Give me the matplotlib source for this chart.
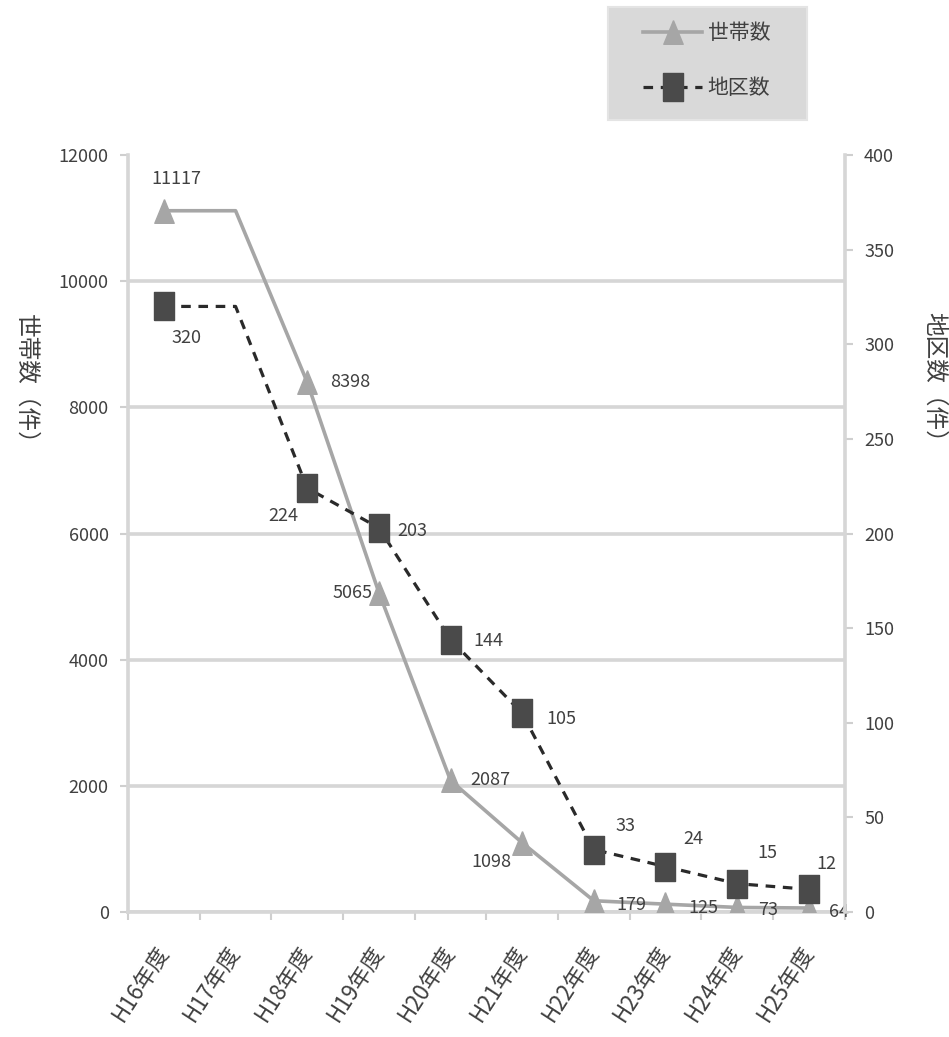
import matplotlib.pyplot as plt
from matplotlib.patches import Rectangle
import numpy as np

plt.rcParams['font.family'] = ['Noto Sans CJK JP', 'DejaVu Sans']

years = ["H16年度", "H17年度", "H18年度", "H19年度", "H20年度",
         "H21年度", "H22年度", "H23年度", "H24年度", "H25年度"]
households = [11117, 11117, 8398, 5065, 2087, 1098, 179, 125, 73, 64]
districts = [320, 320, 224, 203, 144, 105, 33, 24, 15, 12]
# H17 has no marker and no label in the original
marked = [0, 2, 3, 4, 5, 6, 7, 8, 9]

# label offsets in points (dx, dy)
hh_off = {0: (9, 23), 2: (31, 0), 3: (-19, 0), 4: (29, 0), 5: (-22, -14),
          6: (27, -3), 7: (27, -3), 8: (22, -2), 9: (22, -3)}
di_off = {0: (16, -23), 2: (-17, -20), 3: (24, -2), 4: (27, -1), 5: (28, -4),
          6: (23, 17), 7: (20, 20), 8: (22, 22), 9: (13, 18)}

fig = plt.figure(figsize=(9.49, 10.37), dpi=100)
ax = fig.add_axes([0.135, 0.1205, 0.755, 0.73])
ax2 = ax.twinx()

x = np.arange(len(years))
light = "#a6a6a6"
dark = "#4a4a4a"
txt = "#404040"

tri = [(0, 0.5), (-0.41, -0.5), (0.41, -0.5), (0, 0.5)]
rect = [(-0.36, -0.5), (0.36, -0.5), (0.36, 0.5), (-0.36, 0.5), (-0.36, -0.5)]

l1, = ax.plot(x, households, color=light, lw=2.6, marker=tri, markersize=17,
              markevery=marked, label="世帯数", zorder=3)
l2, = ax2.plot(x, districts, color="#2a2a2a", lw=2.3, ls=(0, (3, 2.4)),
               marker=rect, markersize=20, markerfacecolor=dark,
               markeredgecolor=dark, markevery=marked, label="地区数", zorder=4)

for i in marked:
    ax.annotate(str(households[i]), (x[i], households[i]), xytext=hh_off[i],
                textcoords="offset points", ha="center", va="center",
                fontsize=13, color=txt)
    ax2.annotate(str(districts[i]), (x[i], districts[i]), xytext=di_off[i],
                 textcoords="offset points", ha="center", va="center",
                 fontsize=13, color=txt)

ax.set_xlim(-0.5, len(years) - 0.5)
ax.set_ylim(0, 12000)
ax2.set_ylim(0, 400)
ax.set_yticks(range(0, 12001, 2000))
ax2.set_yticks(range(0, 401, 50))
ax.yaxis.grid(True, color="#d6d6d6", lw=2.6)
ax.yaxis.get_gridlines()[-1].set_visible(False)
ax.set_axisbelow(True)

ax.set_xticks(x)
ax.set_xticklabels(years, rotation=57, ha="right", va="center",
                   rotation_mode="anchor", fontsize=16, color=txt)
ax.tick_params(axis="x", length=0, pad=26)
ax.set_xticks(np.arange(-0.5, len(years), 1), minor=True)
ax.tick_params(axis="x", which="minor", length=6, width=1.5, color="#cfcfcf")
ax.tick_params(axis="y", length=6, width=1.5, color="#cfcfcf", labelsize=13,
               labelcolor=txt, pad=8)
ax2.tick_params(axis="y", length=6, width=1.5, color="#cfcfcf", labelsize=13,
                labelcolor=txt, pad=8)

for a in (ax, ax2):
    for s in a.spines.values():
        s.set_visible(False)
for a, side in ((ax, "left"), (ax, "bottom"), (ax2, "right")):
    a.spines[side].set_visible(True)
    a.spines[side].set_color("#d6d6d6")
    a.spines[side].set_linewidth(2.6)

fig.text(0.027, 0.629, "世帯数（件）", rotation=-90, ha="center", va="center",
         fontsize=17, color=txt)
fig.text(0.984, 0.631, "地区数（件）", rotation=-90, ha="center", va="center",
         fontsize=17, color=txt)

# legend: grey box drawn separately so the padding matches the original
fig.patches.append(Rectangle((608 / 949, 1 - 120 / 1037), 199 / 949, 113 / 1037,
                             transform=fig.transFigure, facecolor="#d9d9d9",
                             edgecolor="#e4e4e4", lw=1.5, zorder=0))
leg = fig.legend(handles=[l1, l2], loc="upper left",
                 bbox_to_anchor=(643 / 949, 1 - 22 / 1037), frameon=False,
                 fontsize=15, handlelength=2.85, handletextpad=0.25,
                 borderpad=0, labelspacing=1.6, borderaxespad=0)
for t in leg.get_texts():
    t.set_color(txt)

fig.savefig("out.png", dpi=100)
